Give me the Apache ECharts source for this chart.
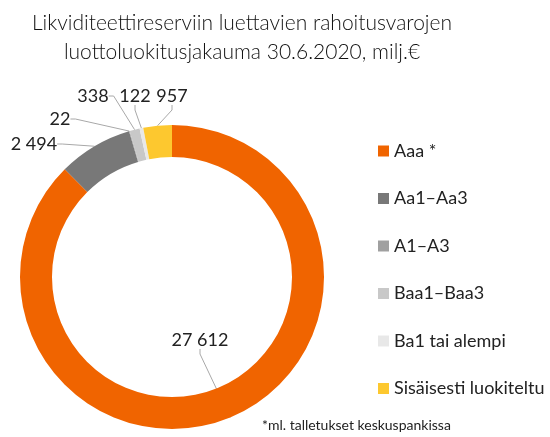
<!DOCTYPE html>
<html>
<head>
<meta charset="utf-8">
<script src="https://cdn.jsdelivr.net/npm/echarts@6/dist/echarts.min.js"></script>
<style>
  html, body { margin: 0; padding: 0; background: #fff; }
  #main { width: 550px; height: 437px; }
</style>
</head>
<body>
<div id="main"></div>
<script>
// luottoluokitukset
const ratings = ['Aaa *', 'Aa1\u2013Aa3', 'A1\u2013A3', 'Baa1\u2013Baa3', 'Ba1 tai alempi', 'Sisäisesti luokiteltu'];
// milj. €
const values = [27612, 2494, 22, 338, 122, 957];
const colors = ['#f06400', '#787878', '#a0a0a0', '#c8c8c8', '#e8e8e8', '#fdc82f'];

// arvolappujen paikat (keskipiste)
const labelPos = [[200, 340], [34, 144], [60, 119], [93, 96], [135, 96], [172, 96]];

const fmt = v => String(v).replace(/\B(?=(\d{3})+(?!\d))/g, ' ');

const chart = echarts.init(document.getElementById('main'));
const font = 'Lato, "Open Sans", sans-serif';

chart.setOption({
  animation: false,
  title: [{
    text: 'Likviditeettireserviin luettavien rahoitusvarojen\nluottoluokitusjakauma 30.6.2020, milj.€',
    left: 237,
    textAlign: 'center',
    top: 4,
    textStyle: { fontFamily: font, fontWeight: 300, fontSize: 21, color: '#111', lineHeight: 29 }
  }, {
    text: '*ml. talletukset keskuspankissa',
    left: 257,
    top: 413,
    textStyle: { fontFamily: font, fontWeight: 400, fontSize: 14, color: '#222' }
  }],
  legend: {
    orient: 'vertical',
    left: 373,
    top: 137,
    itemWidth: 11,
    itemHeight: 11,
    itemGap: 29.5,
    icon: 'rect',
    textStyle: { fontFamily: font, fontSize: 18, color: '#222' },
    data: ratings
  },
  series: [{
    type: 'pie',
    center: [172, 277],
    radius: [120, 152],
    startAngle: 90,
    clockwise: true,
    avoidLabelOverlap: false,
    itemStyle: { borderWidth: 0 },
    label: {
      show: true,
      formatter: p => fmt(p.value),
      fontFamily: font,
      fontSize: 18,
      color: '#222'
    },
    labelLine: {
      show: true,
      length: 5,
      length2: 5,
      lineStyle: { color: '#a8a8a8', width: 1 }
    },
    labelLayout: p => ({
      x: labelPos[p.dataIndex][0],
      y: labelPos[p.dataIndex][1],
      align: 'center',
      verticalAlign: 'middle'
    }),
    data: ratings.map((name, i) => ({
      name,
      value: values[i],
      itemStyle: { color: colors[i] }
    }))
  }]
});
</script>
</body>
</html>
